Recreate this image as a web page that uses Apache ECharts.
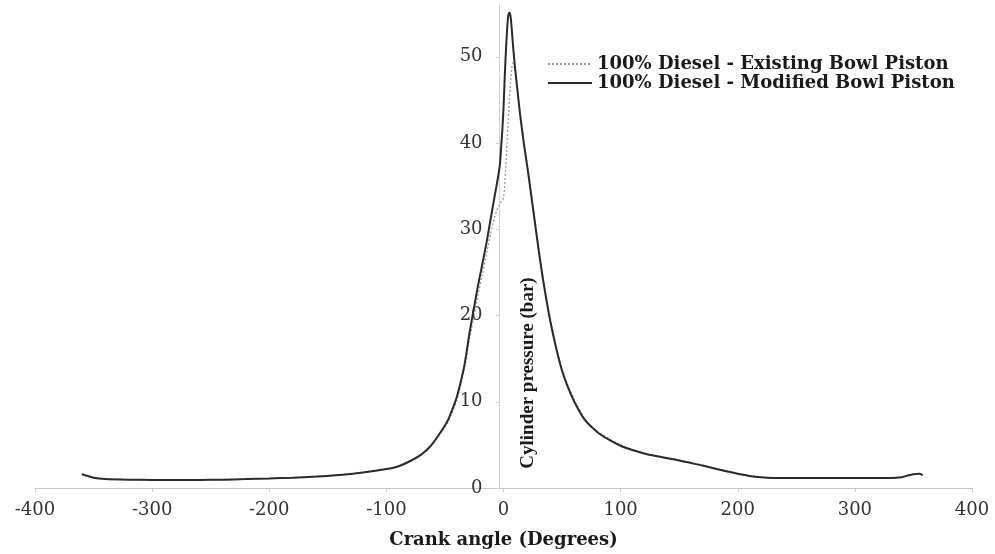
<!DOCTYPE html>
<html>
<head>
<meta charset="utf-8">
<script src="https://cdn.jsdelivr.net/npm/echarts@6/dist/echarts.min.js"></script>
<style>html,body{margin:0;padding:0;background:#fff;}#chart{width:995px;height:554px;}</style>
</head>
<body>
<div id="chart"></div>
<script>
// Crank angle (degrees)
var crankAngle = [-360,-350,-340,-320,-300,-280,-260,-240,-220,-200,-180,-160,-140,-120,-100,-90,-80,-70,-62,-55,-48,-44,-40,-36,-33,-29,-26,-22,-18,-14,-11,-8,-6,-4,-3,-2,-1,0,1,2,3,4,5,6,7,8,10,12,14,17,21,24,27,30,33,36,40,45,50,55,62,70,80,90,100,110,120,130,140,150,160,170,180,190,200,210,220,230,240,260,280,300,320,340,345,350,355,358];
// Cylinder pressure (bar)
var existingPressure = [1.6,1.2,1.05,0.97,0.93,0.92,0.93,0.97,1.03,1.1,1.2,1.32,1.5,1.8,2.2,2.5,3.1,3.9,4.9,6.1,7.5,8.7,10.1,12.2,14.0,17.3,19.3,22.2,24.8,27.5,29.5,31.2,32.1,32.7,33.0,33.2,33.4,33.6,35,37.5,40,42.5,45,47,48.5,49.3,48.7,46.3,43.8,40.6,36.9,33.9,30.9,27.9,25.1,22.6,19.6,16.4,13.8,11.9,9.8,7.9,6.6,5.7,5.0,4.45,4.05,3.75,3.5,3.25,2.95,2.65,2.3,2.0,1.7,1.45,1.28,1.18,1.15,1.15,1.15,1.15,1.15,1.25,1.45,1.6,1.65,1.5];
var modifiedPressure = [1.6,1.2,1.05,0.97,0.93,0.92,0.93,0.97,1.03,1.1,1.2,1.32,1.5,1.8,2.2,2.5,3.1,3.9,4.9,6.2,7.7,9.0,10.5,12.6,14.5,18.0,20.3,23.3,26.0,28.8,31.2,33.5,35.0,36.6,37.6,39.5,41.5,44,47.5,50.5,53,54.7,55.1,54.7,53.3,51.5,48.5,46,43.5,40.3,36.6,33.6,30.6,27.6,24.8,22.3,19.3,16.2,13.6,11.7,9.6,7.8,6.5,5.6,4.9,4.4,4.0,3.7,3.45,3.2,2.9,2.6,2.25,1.95,1.65,1.4,1.25,1.17,1.15,1.15,1.15,1.15,1.15,1.25,1.45,1.6,1.65,1.5];
var xTicks = {min:-400, max:400, interval:100};
var yTicks = {min:0, max:56, interval:10};
var seriesNames = ['100% Diesel - Existing Bowl Piston','100% Diesel - Modified Bowl Piston'];
var xTitle = 'Crank angle (Degrees)';
var yTitle = 'Cylinder pressure (bar)';

function pairs(ys){ return crankAngle.map(function(x,i){ return [x, ys[i]]; }); }
var serif = '"DejaVu Serif","Liberation Serif",serif';
var tserif = '"Liberation Serif","DejaVu Serif",serif';
var chart = echarts.init(document.getElementById('chart'));
chart.setOption({
  animation:false,
  backgroundColor:'#fff',
  grid:{left:35,right:23,top:5,bottom:66},
  legend:{
    orient:'vertical', left:542, top:50, itemWidth:44, itemHeight:10, itemGap:1,
    itemStyle:{opacity:0},
    textStyle:{fontFamily:serif, fontWeight:'bold', fontSize:18, color:'#1a1a1a'},
    data:seriesNames
  },
  xAxis:{
    type:'value', min:xTicks.min, max:xTicks.max, interval:xTicks.interval,
    splitLine:{show:false},
    axisLine:{lineStyle:{color:'#c8c8c8'}},
    axisTick:{show:true,length:4,lineStyle:{color:'#c8c8c8'}},
    axisLabel:{fontFamily:serif, fontSize:18, color:'#333', margin:13},
    name:xTitle, nameLocation:'middle', nameGap:43,
    nameTextStyle:{fontFamily:serif, fontWeight:'bold', fontSize:18, color:'#1a1a1a'}
  },
  yAxis:{
    type:'value', min:yTicks.min, max:yTicks.max, interval:yTicks.interval,
    splitLine:{show:false},
    axisLine:{show:true, onZero:false, lineStyle:{color:'#d0d0d0'}},
    axisTick:{show:true,length:4,lineStyle:{color:'#d0d0d0'}},
    axisLabel:{fontFamily:serif, fontSize:18, color:'#333', margin:17, showMaxLabel:false}
  },
  graphic:[{
    type:'text', x:528, y:373, rotation:Math.PI/2,
    style:{text:yTitle, fontFamily:tserif, fontWeight:'bold', fontSize:19, fill:'#1a1a1a', textAlign:'center', textVerticalAlign:'middle'}
  }],
  series:[
    {name:seriesNames[0], type:'line', data:pairs(existingPressure), showSymbol:false, symbol:'none', smooth:0.2,
     lineStyle:{color:'#9a9a9a', width:1.3, type:[2,2]}, itemStyle:{color:'#9a9a9a'}, z:2},
    {name:seriesNames[1], type:'line', data:pairs(modifiedPressure), showSymbol:false, symbol:'none', smooth:0.2,
     lineStyle:{color:'#2a2a2a', width:2}, itemStyle:{color:'#2a2a2a'}, z:3}
  ]
});
// Put the y axis (line, ticks, labels) on x = 0, as in the reference
var zeroPx = chart.convertToPixel({xAxisIndex:0}, 0);
var leftPx = chart.convertToPixel({xAxisIndex:0}, xTicks.min);
chart.setOption({yAxis:{offset:-(zeroPx - leftPx)}});
</script>
</body>
</html>
